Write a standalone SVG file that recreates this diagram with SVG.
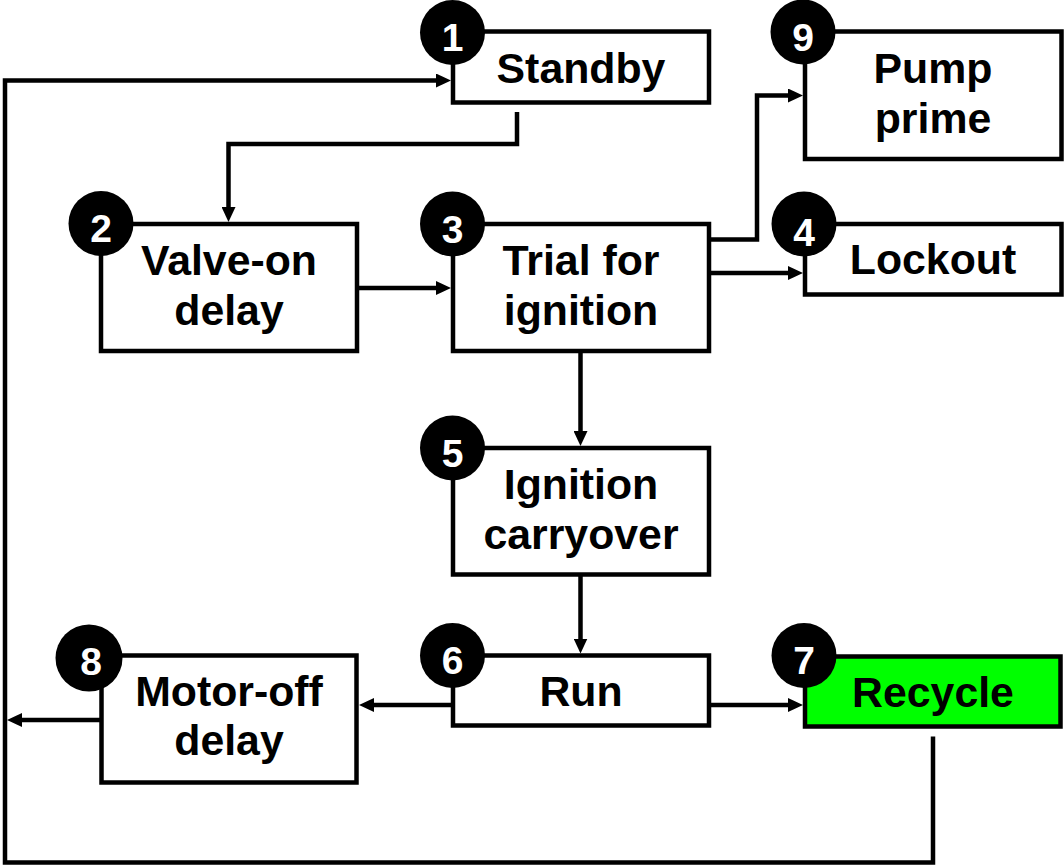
<svg xmlns="http://www.w3.org/2000/svg" width="1064" height="865" viewBox="0 0 1064 865">
<style>
.box{fill:#fff;stroke:#000;stroke-width:4.5}
.green{fill:#00ff00}
.lbl{font-family:"Liberation Sans",Arial,sans-serif;font-weight:bold;font-size:42.8px;fill:#000;text-anchor:middle}
.badge{fill:#000}
.num{font-family:"Liberation Sans",Arial,sans-serif;font-weight:bold;font-size:39px;fill:#fff;text-anchor:middle}
.conn{fill:none;stroke:#000;stroke-width:4.5;stroke-linejoin:miter}
</style>
<defs>
<marker id="arr" markerUnits="userSpaceOnUse" markerWidth="15" markerHeight="14" refX="7" refY="7" orient="auto">
<path d="M0,0 L15,7 L0,14 z" fill="#000"/>
</marker>
</defs>
<rect width="1064" height="865" fill="#fff"/>
<g id="connectors">
<path class="conn" d="M517,112 V144 H228.5 V214" marker-end="url(#arr)"/>
<path class="conn" d="M357,288 H443" marker-end="url(#arr)"/>
<path class="conn" d="M709,239.5 H757 V95.5 H795" marker-end="url(#arr)"/>
<path class="conn" d="M709,273 H795" marker-end="url(#arr)"/>
<path class="conn" d="M580.5,351 V438" marker-end="url(#arr)"/>
<path class="conn" d="M580.5,574.5 V645.5" marker-end="url(#arr)"/>
<path class="conn" d="M453,705 H367" marker-end="url(#arr)"/>
<path class="conn" d="M709,705 H795" marker-end="url(#arr)"/>
<path class="conn" d="M101.5,720 H15" marker-end="url(#arr)"/>
<path class="conn" d="M933,736.5 V862.5 H5 V80.5 H443" marker-end="url(#arr)"/>
</g>
<g id="n1">
<rect class="box" x="453" y="31.5" width="256" height="71"/>
<text class="lbl" x="581" y="83">Standby</text>
<circle class="badge" cx="452.5" cy="32.5" r="32.5"/>
<text class="num" x="452.5" y="51">1</text>
</g>
<g id="n2">
<rect class="box" x="101" y="224" width="256" height="127"/>
<text class="lbl" x="229" y="275">Valve-on</text>
<text class="lbl" x="229" y="325">delay</text>
<circle class="badge" cx="101" cy="223.5" r="32.5"/>
<text class="num" x="101" y="242">2</text>
</g>
<g id="n3">
<rect class="box" x="453" y="224" width="256" height="127"/>
<text class="lbl" x="581" y="275">Trial for</text>
<text class="lbl" x="581" y="325">ignition</text>
<circle class="badge" cx="452.5" cy="224" r="32.5"/>
<text class="num" x="452.5" y="243">3</text>
</g>
<g id="n4">
<rect class="box" x="805" y="224" width="256.5" height="70.5"/>
<text class="lbl" x="933" y="274">Lockout</text>
<circle class="badge" cx="804" cy="224" r="32.5"/>
<text class="num" x="804" y="246">4</text>
</g>
<g id="n9">
<rect class="box" x="805" y="31.5" width="256.5" height="127.5"/>
<text class="lbl" x="933" y="83">Pump</text>
<text class="lbl" x="933" y="133">prime</text>
<circle class="badge" cx="803" cy="32" r="32.5"/>
<text class="num" x="803" y="51">9</text>
</g>
<g id="n5">
<rect class="box" x="453" y="448" width="256" height="126.5"/>
<text class="lbl" x="581" y="499">Ignition</text>
<text class="lbl" x="581" y="549">carryover</text>
<circle class="badge" cx="452.5" cy="448" r="32.5"/>
<text class="num" x="452.5" y="467">5</text>
</g>
<g id="n6">
<rect class="box" x="453" y="655.5" width="256" height="70"/>
<text class="lbl" x="581" y="706">Run</text>
<circle class="badge" cx="452.5" cy="655.5" r="32.5"/>
<text class="num" x="452.5" y="674">6</text>
</g>
<g id="n7">
<rect class="box green" x="805" y="656.5" width="255.5" height="70"/>
<text class="lbl" x="933" y="707">Recycle</text>
<circle class="badge" cx="804" cy="655.5" r="32.5"/>
<text class="num" x="804" y="674">7</text>
</g>
<g id="n8">
<rect class="box" x="101.5" y="655.5" width="255" height="127"/>
<text class="lbl" x="229" y="706">Motor-off</text>
<text class="lbl" x="229" y="755">delay</text>
<circle class="badge" cx="89" cy="658" r="33.5"/>
<text class="num" x="91" y="675">8</text>
</g>
</svg>
